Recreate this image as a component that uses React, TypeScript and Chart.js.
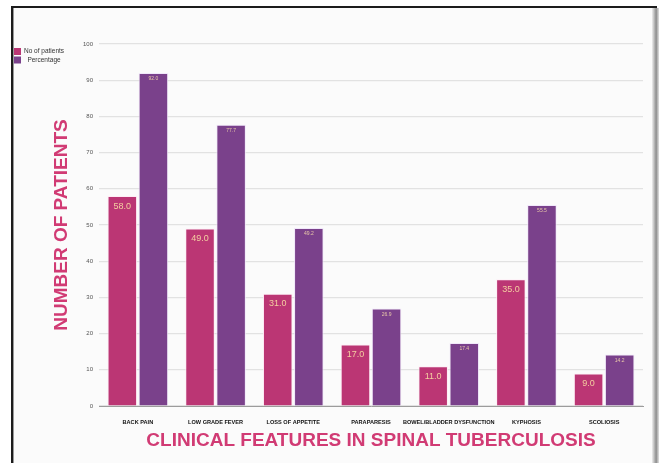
import React, { useEffect, useRef } from "react";
import { Chart, registerables } from "chart.js";

Chart.register(...registerables);

const categories = [
  "BACK PAIN",
  "LOW GRADE FEVER",
  "LOSS OF APPETITE",
  "PARAPARESIS",
  "BOWEL/BLADDER DYSFUNCTION",
  "KYPHOSIS",
  "SCOLIOSIS",
];
const patientCounts = [58, 49, 31, 17, 11, 35, 9];
const percentages = [92.0, 77.7, 49.2, 26.9, 17.4, 55.5, 14.2];
const yTicks = [0, 10, 20, 30, 40, 50, 60, 70, 80, 90, 100];

const PINK = "#BB3674";
const PURPLE = "#7A418B";
const TITLE_PINK = "#D13B74";
const FONT = "'Liberation Sans', Arial, Helvetica, sans-serif";

// Window frame around the chart
const framePlugin = {
  id: "frame",
  beforeDraw(chart: any) {
    const { ctx, width, height } = chart;
    ctx.save();
    ctx.fillStyle = "#ffffff";
    ctx.fillRect(0, 0, width, height);
    ctx.fillStyle = "#fbfbfb";
    ctx.fillRect(13, 8, 642, height - 8);
    // top edge
    ctx.fillStyle = "#1c1c1c";
    ctx.fillRect(11, 6, 646, 2);
    // left edge
    ctx.fillRect(11, 6, 2, height - 6);
    ctx.fillStyle = "#9a9a9a";
    ctx.fillRect(13, 8, 1, height - 8);
    // right edge shading
    const g = ctx.createLinearGradient(652, 0, 659, 0);
    g.addColorStop(0, "rgba(120,120,120,0.1)");
    g.addColorStop(0.6, "rgba(110,110,110,0.8)");
    g.addColorStop(1, "rgba(200,200,200,0.6)");
    ctx.fillStyle = g;
    ctx.fillRect(652, 8, 7, height - 8);
    ctx.restore();
  },
};

// Legend in the top-left corner
const cornerLegendPlugin = {
  id: "cornerLegend",
  afterDraw(chart: any) {
    const { ctx } = chart;
    ctx.save();
    ctx.font = `6.5px ${FONT}`;
    ctx.textBaseline = "middle";
    ctx.textAlign = "center";
    chart.data.datasets.forEach((ds: any, i: number) => {
      const y = 48 + i * 8.5;
      ctx.fillStyle = ds.backgroundColor;
      ctx.fillRect(14, y, 7, 7);
      ctx.fillStyle = "#333";
      ctx.fillText(ds.label, 44, y + 3.5);
    });
    ctx.restore();
  },
};

// Value labels inside the top of each bar
const barValuePlugin = {
  id: "barValues",
  afterDatasetsDraw(chart: any) {
    const { ctx } = chart;
    ctx.save();
    ctx.textAlign = "center";
    ctx.textBaseline = "middle";
    chart.data.datasets.forEach((ds: any, di: number) => {
      const meta = chart.getDatasetMeta(di);
      const size = di === 0 ? 9 : 5;
      ctx.font = `${size}px ${FONT}`;
      ctx.fillStyle = di === 0 ? "#F4CFA0" : "#E9C9A8";
      meta.data.forEach((bar: any, i: number) => {
        const v = ds.data[i] as number;
        ctx.fillText(v.toFixed(1), bar.x, bar.y + (di === 0 ? 10 : 6));
      });
    });
    ctx.restore();
  },
};

export default function App() {
  const canvasRef = useRef<HTMLCanvasElement | null>(null);

  useEffect(() => {
    if (!canvasRef.current) return;
    const chart = new Chart(canvasRef.current, {
      type: "bar",
      data: {
        labels: categories,
        datasets: [
          {
            label: "No of patients",
            data: patientCounts,
            backgroundColor: PINK,
            borderColor: "rgba(255,235,245,0.9)",
            borderWidth: 1,
            barPercentage: 0.95,
            categoryPercentage: 0.8,
          },
          {
            label: "Percentage",
            data: percentages,
            backgroundColor: PURPLE,
            borderColor: "rgba(240,230,250,0.9)",
            borderWidth: 1,
            barPercentage: 0.95,
            categoryPercentage: 0.8,
          },
        ],
      },
      options: {
        responsive: false,
        animation: false,
        layout: { padding: { top: 44, right: 16, left: 0, bottom: 0 } },
        plugins: {
          legend: { display: false },
          tooltip: { enabled: false },
        },
        scales: {
          x: {
            grid: { display: false },
            border: { display: true, color: "#9c9c9c", width: 1 },
            ticks: {
              color: "#111",
              font: { size: 5.6, weight: "bold", family: FONT },
              padding: 5,
              maxRotation: 0,
              autoSkip: false,
            },
            title: {
              display: true,
              text: "CLINICAL FEATURES IN SPINAL TUBERCULOSIS",
              color: TITLE_PINK,
              font: { size: 19, weight: "bold", family: FONT },
              padding: { top: 0, bottom: 11 },
            },
            afterFit(scale: any) {
              scale.height = 57;
            },
          },
          y: {
            min: 0,
            max: 100,
            afterBuildTicks(scale: any) {
              scale.ticks = yTicks.map((v) => ({ value: v }));
            },
            grid: { color: "#e2e2e2", lineWidth: 1.2, drawTicks: false },
            border: { display: false },
            ticks: {
              color: "#555",
              font: { size: 6, family: FONT },
              padding: 6,
            },
            title: {
              display: true,
              text: "NUMBER OF PATIENTS",
              color: TITLE_PINK,
              font: { size: 19, weight: "bold", family: FONT },
              padding: { top: 50, bottom: 0 },
            },
            afterFit(scale: any) {
              scale.width = 99;
            },
          },
        },
      },
      plugins: [framePlugin, cornerLegendPlugin, barValuePlugin],
    });
    return () => chart.destroy();
  }, []);

  return (
    <canvas
      ref={canvasRef}
      width={659}
      height={463}
      style={{ position: "absolute", left: 0, top: 0, display: "block" }}
    />
  );
}
